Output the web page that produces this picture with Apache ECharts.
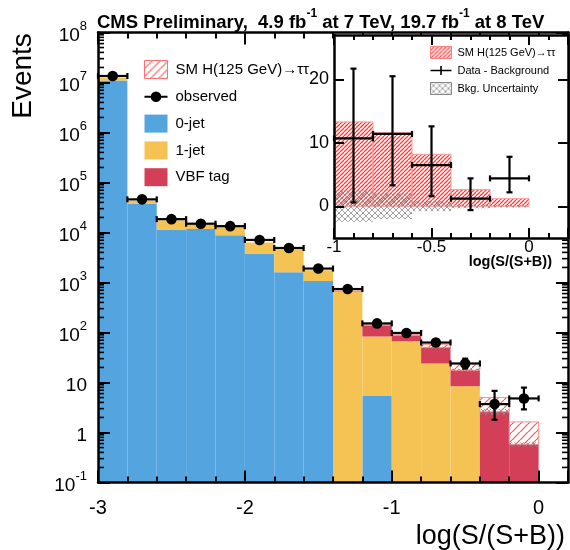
<!DOCTYPE html>
<html>
<head>
<meta charset="utf-8">
<title>log(S/(S+B)) distribution</title>
<script src="https://cdn.jsdelivr.net/npm/echarts@6/dist/echarts.min.js"></script>
<style>
	html, body { margin: 0; padding: 0; background: #fff; }
	#chart { width: 570px; height: 550px; }
</style>
</head>
<body>
<div id="chart"></div>
<script>
// Main histogram: bin edges in log(S/(S+B))
const binEdges = [ -3.0, -2.8, -2.6, -2.4, -2.2, -2.0, -1.8, -1.6, -1.4, -1.2, -1.0, -0.8, -0.6, -0.4, -0.2, 0.0 ];

// Expected events per bin, per process (not stacked)
const zeroJet = [ 1.1e7, 3.8e4, 1.15e4, 1.18e4, 8.8e3, 3.8e3, 1.6e3, 1.07e3, 0, 5.4, 0, 0, 0, 0, 0 ];
const oneJet = [ 1.5e6, 5.0e3, 6.1e3, 3.7e3, 4.6e3, 2.5e3, 3.0e3, 680, 650, 78, 67, 24, 8.4, 0, 0 ];
const vbfTag = [ 0, 0, 0, 0, 0, 0, 0, 0, 20, 57, 21, 26, 9.2, 2.6, 0.58 ];
const smHiggs = [ 0, 0, 0, 0, 0, 0, 0, 0, 1, 1.5, 4, 8, 6.4, 2.4, 1.05 ];
const bkgUncertainty = [ 0, 0, 0, 0, 0, 0, 0, 0, 0, 0, 0, 2, 1.2, 0.35, 0.06 ];

const observed = [ 1.35e7, 4.6e4, 1.85e4, 1.5e4, 1.34e4, 7.1e3, 4.9e3, 1.9e3, 740, 152, 98, 63, 24, 3.7, 4.8 ];
const observedErrLow = [ 3700, 210, 140, 120, 115, 85, 70, 44, 27, 12, 10, 8, 5, 1.9, 1.9 ];
const observedErrHigh = [ 3700, 210, 140, 120, 115, 85, 70, 44, 28, 13, 11, 9, 6, 3.1, 3.1 ];

// Inset: data minus background
const insetEdges = [ -1.0, -0.8, -0.6, -0.4, -0.2, 0.0 ];
const insetSignal = [ 13.3, 11.6, 8.2, 2.65, 1.2 ];
const insetBkgUnc = [ 2.45, 2.0, 0.8, 0.3, 0.2 ];
const insetDiff = [ 10.7, 11.4, 6.5, 1.2, 4.4 ];
const insetDiffErrLow = [ 10.1, 8.1, 4.9, 1.8, 2.2 ];
const insetDiffErrHigh = [ 11.0, 9.1, 6.1, 3.2, 3.4 ];
const insetYLabels = [ 0, 10, 20 ];

// Log minor ticks: mantissas and decades of the main y axis
const minorMantissas = [ 2, 3, 4, 5, 6, 7, 8, 9 ];
const minorDecades = [ 0.1, 1, 10, 1e2, 1e3, 1e4, 1e5, 1e6, 1e7 ];

const X_MIN = -3;
const X_MAX = 0.2;
const Y_MIN = 0.1;
const Y_MAX = 1e8;

const SM_NAME = 'SM H(125 GeV)→ττ';
const COLOR_0JET = '#54a4df';
const COLOR_1JET = '#f4c354';
const COLOR_VBF = '#d43f58';
const FONT = '"Liberation Sans", Arial, Helvetica, sans-serif';

/**
 * Repeating diagonal hatch, optionally crossed.
 *
 * @param {number} size
 * @param {string} color
 * @param {number} width
 * @param {boolean} cross
 * @return {Object}
 */
const makeHatch = ( size, color, width, cross ) => {
	const canvas = document.createElement( 'canvas' );
	canvas.width = size;
	canvas.height = size;
	const ctx = canvas.getContext( '2d' );
	ctx.strokeStyle = color;
	ctx.lineWidth = width;
	ctx.beginPath();
	// neighbours too, so the tile joins up when repeated
	[ -size, 0, size ].forEach( ( d ) => {
		ctx.moveTo( d, size );
		ctx.lineTo( d + size, 0 );
		if ( cross ) {
			ctx.moveTo( d, 0 );
			ctx.lineTo( d + size, size );
		}
	} );
	ctx.stroke();
	return { image: canvas, repeat: 'repeat' };
};

const hatchWide = makeHatch( 8, '#ff5555', 1.2, false );
const hatchDense = makeHatch( 4, '#ff3b3b', 1.3, false );
const crossGray = makeHatch( 6, '#8a8a8a', 0.8, true );

// running sums, bottom of each stacked layer
const stackBases = ( layers ) => {
	const bases = [];
	let running = layers[ 0 ].map( () => 0 );
	layers.forEach( ( layer ) => {
		bases.push( running );
		running = running.map( ( v, i ) => v + layer[ i ] );
	} );
	return bases;
};

const [ zeroBase, oneBase, vbfBase, bkgTotal ] = stackBases( [ zeroJet, oneJet, vbfTag, smHiggs ] );

const add = ( a, b ) => a.map( ( v, i ) => v + b[ i ] );

/**
 * Histogram layer drawn as one rect per bin between low and high.
 *
 * @param {Object} o
 * @return {Object}
 */
const histSeries = ( o ) => ( {
	type: 'custom',
	name: o.name,
	xAxisIndex: o.axis,
	yAxisIndex: o.axis,
	z: o.z,
	silent: true,
	clip: true,
	itemStyle: { color: o.fill },
	encode: { x: [ 0, 1 ], y: [ 2, 3 ] },
	data: o.low.map( ( v, i ) => [ o.edges[ i ], o.edges[ i + 1 ], v, o.high[ i ] ] ),
	renderItem: ( params, api ) => {
		const lo = Math.max( api.value( 2 ), o.floor );
		const hi = api.value( 3 );
		if ( !( hi > lo ) ) {
			return null;
		}
		const a = api.coord( [ api.value( 0 ), lo ] );
		const b = api.coord( [ api.value( 1 ), hi ] );
		return {
			type: 'rect',
			shape: { x: a[ 0 ], y: b[ 1 ], width: b[ 0 ] - a[ 0 ], height: a[ 1 ] - b[ 1 ] },
			style: { fill: o.fill, stroke: o.stroke || null, lineWidth: o.stroke ? 1 : 0 }
		};
	}
} );

/**
 * Points with bin-wide horizontal bars and vertical error bars.
 *
 * @param {Object} o
 * @return {Object}
 */
const errorSeries = ( o ) => ( {
	type: 'custom',
	name: o.name,
	xAxisIndex: o.axis,
	yAxisIndex: o.axis,
	z: o.z,
	silent: true,
	clip: false,
	itemStyle: { color: '#000' },
	encode: { x: [ 0, 1 ], y: 2 },
	data: o.values.map( ( v, i ) => [ o.edges[ i ], o.edges[ i + 1 ], v, o.errLow[ i ], o.errHigh[ i ] ] ),
	markLine: o.markLine,
	renderItem: ( params, api ) => {
		const x0 = api.value( 0 );
		const x1 = api.value( 1 );
		const y = api.value( 2 );
		const mid = ( x0 + x1 ) / 2;
		const c = api.coord( [ mid, y ] );
		const left = api.coord( [ x0, y ] )[ 0 ];
		const right = api.coord( [ x1, y ] )[ 0 ];
		const top = api.coord( [ mid, y + api.value( 4 ) ] )[ 1 ];
		const bottom = api.coord( [ mid, Math.max( y - api.value( 3 ), o.floor ) ] )[ 1 ];
		const line = ( x1p, y1p, x2p, y2p ) => ( {
			type: 'line',
			shape: { x1: x1p, y1: y1p, x2: x2p, y2: y2p },
			style: { stroke: '#000', lineWidth: 2.2 }
		} );
		const cap = 3;
		const children = [
			line( left, c[ 1 ], right, c[ 1 ] ),
			line( left, c[ 1 ] - cap, left, c[ 1 ] + cap ),
			line( right, c[ 1 ] - cap, right, c[ 1 ] + cap )
		];
		if ( bottom - top > 3 ) {
			children.push(
				line( c[ 0 ], top, c[ 0 ], bottom ),
				line( c[ 0 ] - cap, top, c[ 0 ] + cap, top ),
				line( c[ 0 ] - cap, bottom, c[ 0 ] + cap, bottom )
			);
		}
		if ( o.dot ) {
			children.push( {
				type: 'circle',
				shape: { cx: c[ 0 ], cy: c[ 1 ], r: 5.3 },
				style: { fill: '#000' }
			} );
		}
		return { type: 'group', children };
	}
} );

// 2..9 ticks inside every decade, on both vertical frame edges
const logMinorTicks = [];
minorDecades.forEach( ( d ) => {
	minorMantissas.forEach( ( m ) => logMinorTicks.push( [ m * d ] ) );
} );

const minorTickSeries = {
	type: 'custom',
	name: 'minor ticks',
	xAxisIndex: 0,
	yAxisIndex: 0,
	z: 6,
	silent: true,
	clip: false,
	encode: { y: 0 },
	data: logMinorTicks,
	renderItem: ( params, api ) => {
		const v = api.value( 0 );
		const l = api.coord( [ X_MIN, v ] );
		const r = api.coord( [ X_MAX, v ] );
		const style = { stroke: '#000', lineWidth: 1.6 };
		return {
			type: 'group',
			children: [
				{ type: 'line', shape: { x1: l[ 0 ], y1: l[ 1 ], x2: l[ 0 ] + 6, y2: l[ 1 ] }, style },
				{ type: 'line', shape: { x1: r[ 0 ] - 6, y1: r[ 1 ], x2: r[ 0 ], y2: r[ 1 ] }, style }
			]
		};
	}
};

const powerLabel = ( value ) => {
	const n = Math.round( Math.log10( value ) );
	if ( n === 0 ) {
		return '{b|1}';
	}
	if ( n === 1 ) {
		return '{b|10}';
	}
	return '{b|10}{s|' + n + '}';
};

const frameLine = { show: true, onZero: false, lineStyle: { color: '#000', width: 2.5 } };
const majorTick = { show: true, inside: true, length: 12, lineStyle: { color: '#000', width: 2 } };
const minorTick = { show: true, splitNumber: 5, length: 6, lineStyle: { color: '#000', width: 2 } };
const noLabel = { show: false };
const noSplit = { show: false };

const chart = echarts.init( document.getElementById( 'chart' ), null, { renderer: 'canvas' } );

chart.setOption( {
	animation: false,
	textStyle: { fontFamily: FONT, color: '#000' },
	title: {
		left: 97,
		top: 8,
		padding: 0,
		text: '{b|CMS Preliminary,  4.9 fb}{s|-1}{b| at 7 TeV, 19.7 fb}{s|-1}{b| at 8 TeV}',
		textStyle: {
			rich: {
				b: { fontFamily: FONT, fontWeight: 'bold', fontSize: 18.5, lineHeight: 24, verticalAlign: 'bottom', color: '#000' },
				s: { fontFamily: FONT, fontWeight: 'bold', fontSize: 12, lineHeight: 9, verticalAlign: 'top', color: '#000' }
			}
		}
	},
	graphic: [ {
		type: 'text',
		x: 23,
		y: 76,
		rotation: Math.PI / 2,
		style: { text: 'Events', fontFamily: FONT, fontSize: 28, fill: '#000', align: 'center', verticalAlign: 'middle' }
	} ],
	legend: [ {
		left: 144,
		top: 60,
		padding: 0,
		orient: 'vertical',
		itemWidth: 23,
		itemHeight: 18,
		itemGap: 8.8,
		selectedMode: false,
		textStyle: { fontSize: 15, color: '#000', padding: [ 0, 0, 0, 3 ] },
		data: [
			{ name: SM_NAME, icon: 'rect', itemStyle: { color: hatchWide, borderColor: '#ff7070', borderWidth: 1 } },
			{
				name: 'observed',
				icon: 'path://M0,0h0.1v0.1h-0.1z M22.9,17.9h0.1v0.1h-0.1z M0,8H23V10H0z M16.8,9A5.3,5.3 0 1 1 6.2,9A5.3,5.3 0 1 1 16.8,9z',
				itemStyle: { color: '#000', borderWidth: 0 }
			},
			{ name: '0-jet', icon: 'rect', itemStyle: { color: COLOR_0JET, borderWidth: 0 } },
			{ name: '1-jet', icon: 'rect', itemStyle: { color: COLOR_1JET, borderWidth: 0 } },
			{ name: 'VBF tag', icon: 'rect', itemStyle: { color: COLOR_VBF, borderWidth: 0 } }
		]
	}, {
		left: 430,
		top: 46,
		padding: 0,
		orient: 'vertical',
		z: 14,
		itemWidth: 21,
		itemHeight: 12,
		itemGap: 5.5,
		selectedMode: false,
		textStyle: { fontSize: 11, color: '#000', padding: [ 0, 0, 0, 1 ] },
		data: [
			{ name: SM_NAME, icon: 'rect', itemStyle: { color: hatchDense, borderColor: '#ff8080', borderWidth: 1 } },
			{
				name: 'Data - Background',
				icon: 'path://M0,0h0.1v0.1h-0.1z M20.9,11.9h0.1v0.1h-0.1z M0,5.2H21V6.8H0z M9.7,1.5H11.3V10.5H9.7z',
				itemStyle: { color: '#000', borderWidth: 0 }
			},
			{ name: 'Bkg. Uncertainty', icon: 'rect', itemStyle: { color: crossGray, borderColor: '#888', borderWidth: 1 } }
		]
	} ],
	grid: [ {
		left: 98,
		right: 2,
		top: 32.5,
		bottom: 67.5,
		containLabel: false,
		outerBoundsMode: 'none'
	}, {
		left: 334,
		right: 2,
		top: 35,
		bottom: 312,
		containLabel: false,
		outerBoundsMode: 'none',
		show: true,
		z: 10,
		backgroundColor: '#fff',
		borderWidth: 0
	} ],
	xAxis: [ {
		gridIndex: 0,
		type: 'value',
		position: 'bottom',
		min: X_MIN,
		max: X_MAX,
		interval: 1,
		z: 5,
		axisLine: frameLine,
		axisTick: majorTick,
		minorTick,
		splitLine: noSplit,
		axisLabel: { fontSize: 20, margin: 16, color: '#000', showMaxLabel: false },
		name: 'log(S/(S+B))',
		nameLocation: 'end',
		nameGap: -3,
		nameMoveOverlap: false,
		nameTextStyle: { fontSize: 27, color: '#000', align: 'right', verticalAlign: 'top', padding: [ 41, 0, 0, 0 ] }
	}, {
		gridIndex: 0,
		type: 'value',
		position: 'top',
		min: X_MIN,
		max: X_MAX,
		interval: 1,
		z: 5,
		axisLine: frameLine,
		axisTick: majorTick,
		minorTick,
		splitLine: noSplit,
		axisLabel: noLabel
	}, {
		gridIndex: 1,
		type: 'value',
		position: 'bottom',
		min: -1,
		max: 0.2,
		interval: 0.5,
		z: 12,
		axisLine: frameLine,
		axisTick: { ...majorTick, length: 10 },
		minorTick: { ...minorTick, length: 5 },
		splitLine: noSplit,
		axisLabel: { fontSize: 17, margin: 1, color: '#000', showMaxLabel: false },
		name: 'log(S/(S+B))',
		nameLocation: 'end',
		nameGap: -16,
		nameMoveOverlap: false,
		nameTextStyle: { fontSize: 14.5, fontWeight: 'bold', color: '#000', align: 'right', verticalAlign: 'top', padding: [ 16, 0, 0, 0 ] }
	}, {
		gridIndex: 1,
		type: 'value',
		position: 'top',
		min: -1,
		max: 0.2,
		interval: 0.5,
		z: 12,
		axisLine: frameLine,
		axisTick: { ...majorTick, length: 10 },
		minorTick: { ...minorTick, length: 5 },
		splitLine: noSplit,
		axisLabel: noLabel
	} ],
	yAxis: [ {
		gridIndex: 0,
		type: 'log',
		logBase: 10,
		position: 'left',
		min: Y_MIN,
		max: Y_MAX,
		splitNumber: 9,
		z: 5,
		axisLine: frameLine,
		axisTick: majorTick,
		splitLine: noSplit,
		axisLabel: {
			margin: 11,
			formatter: powerLabel,
			rich: {
				b: { fontFamily: FONT, fontSize: 19, lineHeight: 26, verticalAlign: 'bottom', color: '#000' },
				s: { fontFamily: FONT, fontSize: 13, lineHeight: 8, verticalAlign: 'top', color: '#000' }
			}
		}
	}, {
		gridIndex: 0,
		type: 'log',
		logBase: 10,
		position: 'right',
		min: Y_MIN,
		max: Y_MAX,
		splitNumber: 9,
		z: 5,
		axisLine: frameLine,
		axisTick: majorTick,
		splitLine: noSplit,
		axisLabel: noLabel
	}, {
		gridIndex: 1,
		type: 'value',
		position: 'left',
		min: -5,
		max: 27,
		z: 12,
		axisLine: frameLine,
		axisTick: { ...majorTick, length: 10, customValues: insetYLabels },
		splitLine: noSplit,
		axisLabel: { fontSize: 18, margin: 5, color: '#000', customValues: insetYLabels }
	}, {
		gridIndex: 1,
		type: 'value',
		position: 'right',
		min: -5,
		max: 27,
		z: 12,
		axisLine: frameLine,
		axisTick: { ...majorTick, length: 10, customValues: insetYLabels },
		splitLine: noSplit,
		axisLabel: noLabel
	} ],
	series: [
		histSeries( { name: '0-jet', axis: 0, z: 2, edges: binEdges, floor: Y_MIN, low: zeroBase, high: add( zeroBase, zeroJet ), fill: COLOR_0JET } ),
		histSeries( { name: '1-jet', axis: 0, z: 2, edges: binEdges, floor: Y_MIN, low: oneBase, high: add( oneBase, oneJet ), fill: COLOR_1JET } ),
		histSeries( { name: 'VBF tag', axis: 0, z: 2, edges: binEdges, floor: Y_MIN, low: vbfBase, high: add( vbfBase, vbfTag ), fill: COLOR_VBF } ),
		histSeries( { name: SM_NAME, axis: 0, z: 2, edges: binEdges, floor: Y_MIN, low: bkgTotal, high: add( bkgTotal, smHiggs ), fill: hatchWide, stroke: '#ff9090' } ),
		histSeries( {
			name: 'Bkg. Uncertainty',
			axis: 0,
			z: 2,
			edges: binEdges,
			floor: Y_MIN,
			low: bkgTotal.map( ( v, i ) => v - bkgUncertainty[ i ] ),
			high: add( bkgTotal, bkgUncertainty ),
			fill: crossGray
		} ),
		errorSeries( { name: 'observed', axis: 0, z: 4, edges: binEdges, floor: Y_MIN, values: observed, errLow: observedErrLow, errHigh: observedErrHigh, dot: true } ),
		minorTickSeries,

		histSeries( { name: SM_NAME, axis: 2, z: 11, edges: insetEdges, floor: -Infinity, low: insetSignal.map( () => 0 ), high: insetSignal, fill: hatchDense, stroke: '#ff9a9a' } ),
		histSeries( {
			name: 'Bkg. Uncertainty',
			axis: 2,
			z: 11,
			edges: insetEdges,
			floor: -Infinity,
			low: insetBkgUnc.map( ( v ) => -v ),
			high: insetBkgUnc,
			fill: crossGray
		} ),
		errorSeries( {
			name: 'Data - Background',
			axis: 2,
			z: 12,
			edges: insetEdges,
			floor: -Infinity,
			values: insetDiff,
			errLow: insetDiffErrLow,
			errHigh: insetDiffErrHigh,
			dot: false,
			markLine: {
				silent: true,
				symbol: [ 'none', 'none' ],
				label: { show: false },
				lineStyle: { color: '#000', width: 2, type: 'solid' },
				data: [ { yAxis: 0 } ]
			}
		} )
	]
} );
</script>
</body>
</html>
